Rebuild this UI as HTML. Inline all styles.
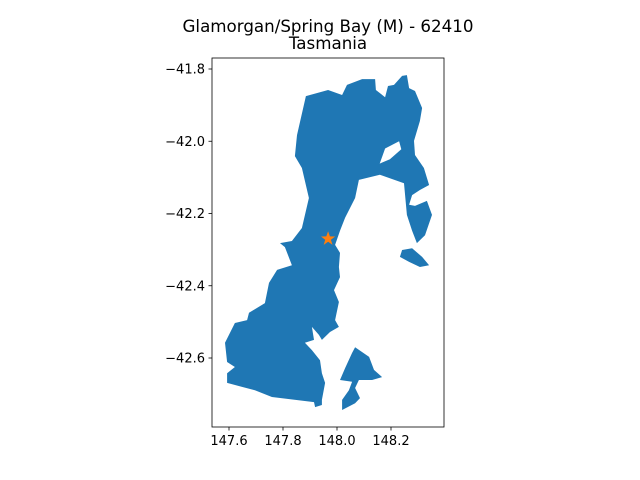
<!DOCTYPE html>
<html><head><meta charset="utf-8"><style>
body{margin:0;background:#fff}
svg{display:block;font-family:"DejaVu Sans","Liberation Sans",sans-serif}
</style></head><body>
<svg id="chart" width="640" height="480">
<text x="328" y="32" text-anchor="middle" font-size="16.7">Glamorgan/Spring Bay (M) - 62410</text>
<text x="328" y="49" text-anchor="middle" font-size="16.7">Tasmania</text>
<g id="shapes"></g>
<g id="axes"></g>
</svg>
<script>
const xTicks=[147.6,147.8,148.0,148.2];
const yTicks=[-41.8,-42.0,-42.2,-42.4,-42.6];
const xTickLabels=["147.6","147.8","148.0","148.2"];
const yTickLabels=["\u221241.8","\u221242.0","\u221242.2","\u221242.4","\u221242.6"];
const mainLand=[[147.885,-41.875],[147.967,-41.858],[148.019,-41.872],[148.037,-41.844],[148.093,-41.828],[148.141,-41.828],[148.144,-41.858],[148.178,-41.878],[148.189,-41.847],[148.211,-41.844],[148.241,-41.819],[148.259,-41.817],[148.267,-41.853],[148.289,-41.861],[148.315,-41.908],[148.307,-41.944],[148.285,-41.999],[148.289,-42.038],[148.322,-42.074],[148.341,-42.121],[148.307,-42.135],[148.278,-42.149],[148.267,-42.176],[148.289,-42.179],[148.333,-42.165],[148.352,-42.204],[148.326,-42.260],[148.296,-42.282],[148.278,-42.248],[148.259,-42.204],[148.248,-42.116],[148.159,-42.093],[148.081,-42.107],[148.067,-42.157],[148.030,-42.212],[148.011,-42.248],[147.993,-42.287],[148.011,-42.309],[148.007,-42.348],[148.011,-42.376],[147.989,-42.412],[148.007,-42.445],[147.993,-42.495],[148.007,-42.514],[147.974,-42.528],[147.944,-42.550],[147.933,-42.536],[147.907,-42.514],[147.915,-42.550],[147.881,-42.558],[147.907,-42.578],[147.937,-42.606],[147.944,-42.642],[147.956,-42.669],[147.944,-42.716],[147.944,-42.730],[147.919,-42.736],[147.915,-42.722],[147.759,-42.708],[147.696,-42.689],[147.648,-42.680],[147.593,-42.669],[147.593,-42.642],[147.622,-42.625],[147.593,-42.611],[147.585,-42.558],[147.622,-42.503],[147.667,-42.495],[147.674,-42.475],[147.733,-42.448],[147.748,-42.392],[147.778,-42.356],[147.833,-42.343],[147.807,-42.293],[147.789,-42.282],[147.833,-42.276],[147.870,-42.240],[147.896,-42.157],[147.870,-42.074],[147.844,-42.041],[147.852,-41.983]];
const mariaIsland=[[148.067,-42.570],[148.119,-42.597],[148.137,-42.633],[148.167,-42.653],[148.130,-42.661],[148.081,-42.661],[148.067,-42.683],[148.085,-42.711],[148.067,-42.725],[148.019,-42.744],[148.019,-42.716],[148.044,-42.689],[148.056,-42.666],[148.011,-42.661],[148.030,-42.628],[148.056,-42.586]];
const schoutenIsland=[[148.241,-42.301],[148.278,-42.296],[148.315,-42.320],[148.341,-42.343],[148.307,-42.348],[148.267,-42.334],[148.233,-42.320]];
const lagoon=[[148.178,-42.020],[148.230,-42.000],[148.238,-42.022],[148.196,-42.050],[148.158,-42.062]];
const marker=[147.967,-42.27];
const NS="http://www.w3.org/2000/svg";
const L=212,R=444,T=58,B=427;
function sx(v){return 229+(v-147.6)*270;}
function sy(v){return 69+(-41.8-v)*361.25;}
function pts(a){return a.map(p=>sx(p[0]).toFixed(1)+","+sy(p[1]).toFixed(1)).join(" ");}
const g=document.getElementById('shapes');
function poly(a,fill,name){const p=document.createElementNS(NS,'polygon');p.setAttribute('points',pts(a));p.setAttribute('fill',fill);


g.appendChild(p);}
poly(mainLand,'#1f77b4','mainland-region');
poly(mariaIsland,'#1f77b4','maria-island');
poly(schoutenIsland,'#1f77b4','schouten-island');
poly(lagoon,'#ffffff','moulting-lagoon');
const cx=sx(marker[0]),cy=sy(marker[1]);let s="";
for(let i=0;i<10;i++){const r=i%2?3:7.5;const a=-Math.PI/2+i*Math.PI/5;s+=(cx+r*Math.cos(a)).toFixed(1)+","+(cy+r*Math.sin(a)).toFixed(1)+" ";}
const st=document.createElementNS(NS,'polygon');st.setAttribute('points',s);st.setAttribute('fill','#ff7f0e');


g.appendChild(st);
const ax=document.getElementById('axes');
const fr=document.createElementNS(NS,'rect');fr.setAttribute('x',L);fr.setAttribute('y',T);fr.setAttribute('width',R-L);fr.setAttribute('height',B-T);fr.setAttribute('fill','none');fr.setAttribute('stroke','#000');fr.setAttribute('stroke-width','0.8');


ax.appendChild(fr);
xTicks.forEach((v,i)=>{const x=sx(v);const l=document.createElementNS(NS,'line');l.setAttribute('x1',x);l.setAttribute('x2',x);l.setAttribute('y1',B);l.setAttribute('y2',B+3.5);l.setAttribute('stroke','#000');l.setAttribute('stroke-width','0.8');


ax.appendChild(l);
const t=document.createElementNS(NS,'text');t.setAttribute('x',x);t.setAttribute('y',B+18);t.setAttribute('text-anchor','middle');t.setAttribute('font-size','13');t.textContent=xTickLabels[i];


ax.appendChild(t);});
yTicks.forEach((v,i)=>{const y=sy(v);const l=document.createElementNS(NS,'line');l.setAttribute('x1',L-3.5);l.setAttribute('x2',L);l.setAttribute('y1',y);l.setAttribute('y2',y);l.setAttribute('stroke','#000');l.setAttribute('stroke-width','0.8');


ax.appendChild(l);
const t=document.createElementNS(NS,'text');t.setAttribute('x',L-7);t.setAttribute('y',y+4.5);t.setAttribute('text-anchor','end');t.setAttribute('font-size','13');t.textContent=yTickLabels[i];


ax.appendChild(t);});
</script>
</body></html>
